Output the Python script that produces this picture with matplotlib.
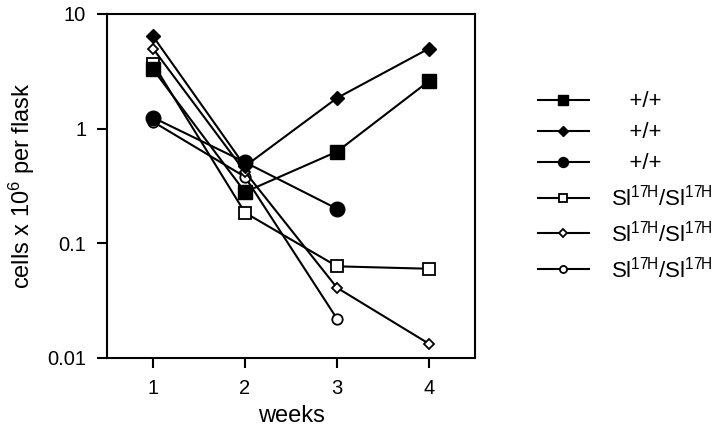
import matplotlib
matplotlib.use('Agg')
import matplotlib.pyplot as plt
from matplotlib.ticker import FixedLocator, NullLocator

plt.rcParams['font.family'] = ['Liberation Sans', 'DejaVu Sans']
plt.rcParams['mathtext.fontset'] = 'custom'
plt.rcParams['mathtext.rm'] = 'Liberation Sans'
plt.rcParams['mathtext.default'] = 'regular'

# cells x 10^6 per flask
weeks = [1, 2, 3, 4]
wt_square = [3.3, 0.28, 0.63, 2.6]
wt_diamond = [6.4, 0.47, 1.85, 5.0]
wt_circle = [1.25, 0.51, 0.2]
sl_square = [3.7, 0.185, 0.063, 0.060]
sl_diamond = [5.0, 0.42, 0.041, 0.0133]
sl_circle = [1.15, 0.38, 0.022]

wt_label = '   +/+'
sl_label = r'Sl$^{17H}$/Sl$^{17H}$'

fig = plt.figure(figsize=(7.2, 4.28), dpi=100)
ax = fig.add_axes([0.1486, 0.1636, 0.5111, 0.8037])

lw = 1.5
# open symbols first so the filled ones sit on top at week 1
ax.plot(weeks[:3], sl_circle, color='black', lw=lw, marker='o', ms=7.5,
        mfc='white', mec='black', mew=1.3, label=sl_label, zorder=3)
ax.plot(weeks, sl_square, color='black', lw=lw, marker='s', ms=8.5,
        mfc='white', mec='black', mew=1.3, label=sl_label, zorder=3)
ax.plot(weeks, sl_diamond, color='black', lw=lw, marker='D', ms=5.5,
        mfc='white', mec='black', mew=1.3, label=sl_label, zorder=4)
ax.plot(weeks[:3], wt_circle, color='black', lw=lw, marker='o', ms=10.5,
        label=wt_label, zorder=5)
ax.plot(weeks, wt_square, color='black', lw=lw, marker='s', ms=10.5,
        label=wt_label, zorder=5)
ax.plot(weeks, wt_diamond, color='black', lw=lw, marker='D', ms=7.5,
        label=wt_label, zorder=6)

ax.set_yscale('log')
ax.set_ylim(0.01, 10)
ax.set_xlim(0.5, 4.5)
ax.yaxis.set_major_locator(FixedLocator([0.01, 0.1, 1, 10]))
ax.yaxis.set_minor_locator(NullLocator())
ax.set_yticklabels(['0.01', '0.1', '1', '10'])
ax.set_xticks(weeks)

for s in ax.spines.values():
    s.set_linewidth(1.5)
ax.tick_params(direction='out', length=7, width=1.5, labelsize=14.5, pad=8)

ax.set_xlabel('weeks', fontsize=17, labelpad=5)
ax.set_ylabel(r'cells x 10$^6$ per flask', fontsize=17, labelpad=7)

h, l = ax.get_legend_handles_labels()
order = [4, 5, 3, 1, 2, 0]
leg = fig.legend([h[i] for i in order], [l[i] for i in order],
                 loc='upper left', bbox_to_anchor=(0.719, 0.833),
                 frameon=False, fontsize=16, handlelength=2.3,
                 handletextpad=1.0, labelspacing=0.45, markerscale=0.68)

fig.savefig('out.png', dpi=100)
